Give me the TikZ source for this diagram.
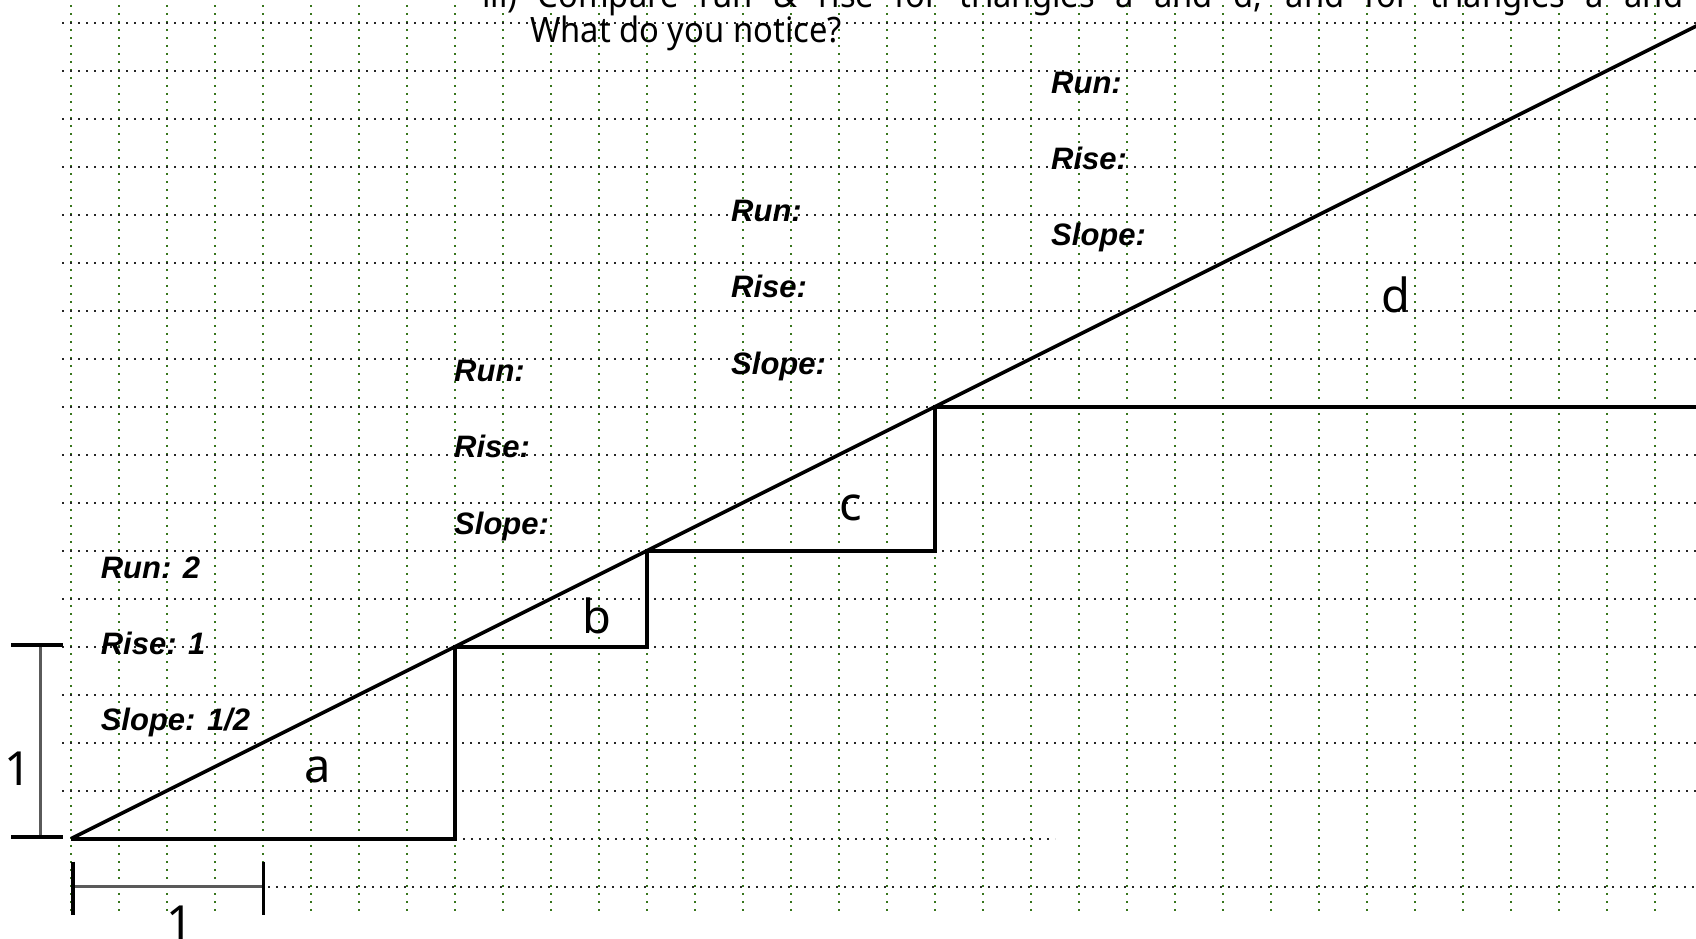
\documentclass[tikz,border=0pt]{standalone}
\usepackage{fontspec}
\setmainfont{Noto Sans}
\newfontfamily\headfont{Noto Sans}[FakeStretch=0.935]
\newfontfamily\labfont{Liberation Sans}
\definecolor{gridgreen}{RGB}{56,118,29}
\definecolor{bracketgrey}{RGB}{90,90,90}
\begin{document}
\begin{tikzpicture}[x=1pt,y=-1pt,
  vgrid/.style={draw=gridgreen,line width=2pt,dash pattern=on 2pt off 6pt},
  hgrid/.style={draw=black!85,line width=2pt,dash pattern=on 2pt off 6pt},
  tri/.style={draw=black,line width=3.6pt},
  tick/.style={draw=black,line width=3.6pt},
  span/.style={draw=bracketgrey,line width=3pt},
  lbl/.style={font=\labfont\bfseries\itshape\fontsize{31}{31}\selectfont,anchor=base west,inner sep=0pt},
  big/.style={font=\fontsize{47}{47}\selectfont,anchor=base,inner sep=0pt},
  head/.style={font=\headfont\fontsize{35}{35}\selectfont,anchor=base west,inner sep=0pt}]
\useasboundingbox (0,0) rectangle (1696,938);
\clip (0,0) rectangle (1696,938);
% grid
\foreach \k in {0,...,33} \draw[vgrid] ({71+48*\k},5) -- ({71+48*\k},912);
\foreach \k in {0,...,16} \draw[hgrid] (62,{22.7+48*\k}) -- (1696,{22.7+48*\k});
\draw[hgrid] (455,838.7) -- (1055,838.7);
\draw[hgrid] (268,886.7) -- (1696,886.7);
% heading
\node[head] (q1) at (482,7) {\makebox[1201pt][s]{iii) Compare run \& rise for triangles a and d, and for triangles a and}};
\node[head] (q2) at (530,42) {What do you notice?};
% staircase
\coordinate (P0) at (71,838.7);
\coordinate (Pa) at (455,838.7);
\coordinate (P1) at (455,646.7);
\coordinate (Pb) at (647,646.7);
\coordinate (P2) at (647,550.7);
\coordinate (Pc) at (935,550.7);
\coordinate (P3) at (935,406.7);
\coordinate (Pd) at (1710,406.7);
\coordinate (Pend) at (1751,-1.3);
\draw[tri] (P0) -- (Pend);
\draw[tri] (P0) -- (Pa) -- (P1) -- (Pb) -- (P2) -- (Pc) -- (P3) -- (Pd);
% triangle names
\node[big] (ta) at (317.5,782) {a};
\node[big] (tb) at (597,633) {b};
\node[big] (tc) at (851,520) {c};
\node[big] (td) at (1396,312) {d};
% labels
\node[lbl] (r1) at (100.6,578.5) {Run: 2};
\node[lbl] (s1) at (100.6,654.3) {Rise: 1};
\node[lbl] (m1) at (100.6,730) {Slope: 1/2};
\node[lbl] (r2) at (454,381.5) {Run:};
\node[lbl] (s2) at (454,457.5) {Rise:};
\node[lbl] (m2) at (454,534) {Slope:};
\node[lbl] (r3) at (731,221.5) {Run:};
\node[lbl] (s3) at (731,297.3) {Rise:};
\node[lbl] (m3) at (731,374) {Slope:};
\node[lbl] (r4) at (1051,93.5) {Run:};
\node[lbl] (s4) at (1051,169) {Rise:};
\node[lbl] (m4) at (1051,245) {Slope:};
% vertical unit bracket
\coordinate (vt1) at (11,645);
\coordinate (vt2) at (63,645);
\coordinate (vb1) at (11,837);
\coordinate (vb2) at (63,837);
\coordinate (vtm) at (40.7,645);
\coordinate (vbm) at (40.7,837);
\draw[span] (vtm) -- (vbm);
\draw[tick] (vt1) -- (vt2);
\draw[tick] (vb1) -- (vb2);
\node[big] (u1) at (17.5,785) {1};
% horizontal unit bracket
\coordinate (hl1) at (72.7,861.7);
\coordinate (hl2) at (72.7,915);
\coordinate (hr1) at (263.3,861.7);
\coordinate (hr2) at (263.3,915);
\coordinate (hlm) at (72.7,886.7);
\coordinate (hrm) at (263.3,886.7);
\draw[span] (hlm) -- (hrm);
\draw[tick] (hl1) -- (hl2);
\draw[tick] (hr1) -- (hr2);
\node[big] (u2) at (180,939) {1};
\end{tikzpicture}
\end{document}
